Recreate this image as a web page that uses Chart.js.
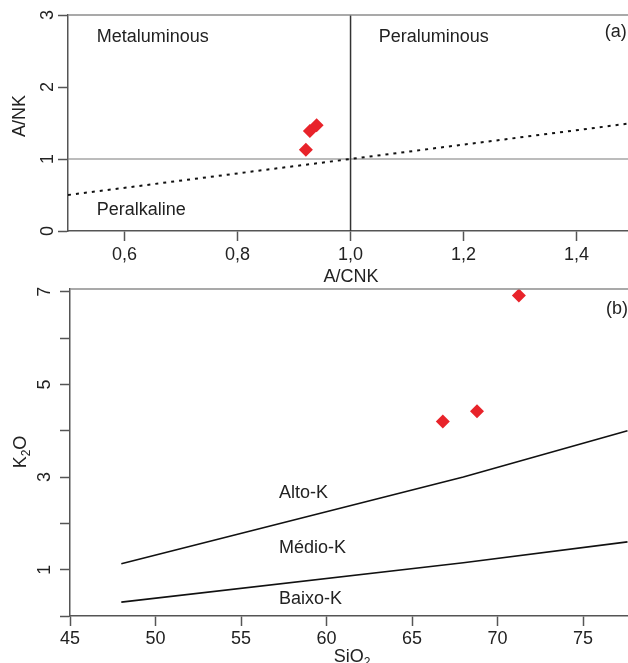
<!DOCTYPE html>
<html>
<head>
<meta charset="utf-8">
<script src="https://cdn.jsdelivr.net/npm/chart.js@4.4.0/dist/chart.umd.min.js"></script>
<style>
  html, body { margin: 0; padding: 0; background: #fff; }
  #wrap { position: relative; width: 628px; height: 663px; overflow: hidden; }
  canvas { position: absolute; left: 0; }
  #chartA { top: 0; }
  #chartB { top: 280px; }
</style>
</head>
<body>
<div id="wrap">
  <canvas id="chartA" width="628" height="290"></canvas>
  <canvas id="chartB" width="628" height="383"></canvas>
</div>
<script>
// (a) A/CNK x A/NK
const acnk = [0.921, 0.928, 0.94];
const ank = [1.13, 1.39, 1.47];
const acnkTicks = [0.6, 0.8, 1.0, 1.2, 1.4];
const ankTicks = [0, 1, 2, 3];
const ankLabelTicks = [0, 1, 2, 3];
const peralkLineX = [0.5, 1.5];   // A/NK = A/CNK
const peralkLineY = [0.5, 1.5];
const ank1LineX = [0.5, 1.5];
const ank1LineY = [1, 1];
const acnk1LineX = [1, 1];
const acnk1LineY = [0, 3];
const fieldsA = ["Metaluminous", "Peraluminous", "Peralkaline", "(a)"];
const fieldsAX = [0.551, 1.05, 0.551, 1.45];
const fieldsAY = [2.69, 2.69, 0.29, 2.77];

// (b) SiO2 x K2O
const sio2 = [66.8, 68.8, 71.25];
const k2o = [4.2, 4.42, 6.92];
const sio2Ticks = [45, 50, 55, 60, 65, 70, 75];
const k2oTicks = [0, 1, 2, 3, 4, 5, 6, 7];
const k2oLabelTicks = [1, 3, 5, 7];
const altoLineX = [48, 68, 77.6];
const altoLineY = [1.13, 3.0, 4.0];
const baixoLineX = [48, 68, 77.6];
const baixoLineY = [0.3, 1.15, 1.6];
const fieldsB = ["Alto-K", "Médio-K", "Baixo-K", "(b)"];
const fieldsBX = [57.22, 57.22, 57.22, 76.35];
const fieldsBY = [2.66, 1.47, 0.37, 6.63];

const FONT = '"Liberation Sans", Arial, sans-serif';
const TXT = '#222';

const pts = (xs, ys) => xs.map((x, i) => ({ x: x, y: ys[i] }));

function lineSet(xs, ys, color, width, dash) {
  return {
    data: pts(xs, ys),
    showLine: true,
    borderColor: color,
    borderWidth: width,
    borderDash: dash || [],
    pointRadius: 0,
    tension: 0,
    fill: false
  };
}

// draws text pieces, some as subscript, centred on (0,0)
function drawSub(ctx, parts) {
  const big = '18px ' + FONT, small = '12px ' + FONT;
  let total = 0;
  parts.forEach(p => { ctx.font = p[1] ? small : big; total += ctx.measureText(p[0]).width; });
  let x = -total / 2;
  ctx.textAlign = 'left';
  parts.forEach(p => {
    ctx.font = p[1] ? small : big;
    ctx.fillText(p[0], x, p[1] ? 6 : 0);
    x += ctx.measureText(p[0]).width;
  });
}

function overlay(o) {
  return {
    id: 'overlay',
    afterDraw(chart) {
      const ctx = chart.ctx, a = chart.chartArea;
      const xs = chart.scales.x, ys = chart.scales.y;
      ctx.save();
      // top frame
      ctx.strokeStyle = '#8c8c8c';
      ctx.lineWidth = 1.5;
      ctx.beginPath();
      ctx.moveTo(a.left, a.top);
      ctx.lineTo(a.right, a.top);
      ctx.stroke();

      ctx.fillStyle = TXT;
      ctx.font = '18px ' + FONT;
      ctx.textBaseline = 'middle';
      // rotated y tick labels
      ctx.textAlign = 'center';
      o.yLabels.forEach(v => {
        ctx.save();
        ctx.translate(a.left - o.yLabelGap, ys.getPixelForValue(v));
        ctx.rotate(-Math.PI / 2);
        ctx.fillText(String(v), 0, 0);
        ctx.restore();
      });
      // field names
      ctx.textAlign = 'left';
      o.texts.forEach((t, i) => {
        ctx.fillText(t, xs.getPixelForValue(o.tx[i]), ys.getPixelForValue(o.ty[i]));
      });
      // axis titles
      ctx.save();
      ctx.translate(o.xTitle[0], o.xTitle[1]);
      drawSub(ctx, o.xTitleParts);
      ctx.restore();
      ctx.save();
      ctx.translate(o.yTitle[0], o.yTitle[1]);
      ctx.rotate(-Math.PI / 2);
      drawSub(ctx, o.yTitleParts);
      ctx.restore();
      ctx.restore();
    }
  };
}

function axisOpts(ticks, size, extra) {
  return Object.assign({
    type: 'linear',
    afterBuildTicks: s => { s.ticks = ticks.map(v => ({ value: v })); },
    afterFit: s => {
      if (s.isHorizontal()) s.height = size; else s.width = size;
      s.paddingLeft = 0; s.paddingRight = 0; s.paddingTop = 0; s.paddingBottom = 0;
    },
    grid: { drawOnChartArea: false, drawTicks: true, tickLength: 10, tickColor: '#555', tickWidth: 1.5 },
    border: { display: true, color: '#555', width: 1.5 }
  }, extra);
}

const common = {
  responsive: false,
  animation: false,
  events: [],
  plugins: { legend: { display: false }, tooltip: { enabled: false } }
};

new Chart(document.getElementById('chartA'), {
  type: 'scatter',
  data: {
    datasets: [
      {
        data: pts(acnk, ank),
        pointStyle: 'rectRot',
        pointRadius: 7,
        backgroundColor: '#e8232a',
        borderWidth: 0
      },
      lineSet(peralkLineX, peralkLineY, '#111', 2, [3, 5]),
      lineSet(acnk1LineX, acnk1LineY, '#333', 1.5),
      lineSet(ank1LineX, ank1LineY, '#7a7a7a', 1.2)
    ]
  },
  options: Object.assign({}, common, {
    layout: { autoPadding: false, padding: { top: 15, left: 0, right: 0, bottom: 0 } },
    scales: {
      x: axisOpts(acnkTicks, 59, {
        min: 0.5,
        max: 1.491,
        ticks: {
          font: { family: FONT, size: 18 }, color: TXT, padding: 3,
          maxRotation: 0, autoSkip: false,
          callback: v => v.toFixed(1).replace('.', ',')
        }
      }),
      y: axisOpts(ankTicks, 68, {
        min: 0,
        max: 3,
        ticks: { display: false }
      })
    }
  }),
  plugins: [overlay({
    yLabels: ankLabelTicks, yLabelGap: 20,
    texts: fieldsA, tx: fieldsAX, ty: fieldsAY,
    xTitle: [351, 277], xTitleParts: [['A/CNK', false]],
    yTitle: [20, 116], yTitleParts: [['A/NK', false]]
  })]
});

new Chart(document.getElementById('chartB'), {
  type: 'scatter',
  data: {
    datasets: [
      {
        data: pts(sio2, k2o),
        pointStyle: 'rectRot',
        pointRadius: 7,
        backgroundColor: '#e8232a',
        borderWidth: 0
      },
      lineSet(altoLineX, altoLineY, '#111', 1.6),
      lineSet(baixoLineX, baixoLineY, '#111', 1.6)
    ]
  },
  options: Object.assign({}, common, {
    layout: { autoPadding: false, padding: { top: 9, left: 0, right: 0, bottom: 0 } },
    scales: {
      x: axisOpts(sio2Ticks, 47, {
        min: 45,
        max: 77.63,
        ticks: {
          font: { family: FONT, size: 18 }, color: TXT, padding: 2,
          maxRotation: 0, autoSkip: false,
          callback: v => String(v)
        }
      }),
      y: axisOpts(k2oTicks, 70, {
        min: 0,
        max: 7.06,
        ticks: { display: false }
      })
    }
  }),
  plugins: [overlay({
    yLabels: k2oLabelTicks, yLabelGap: 25,
    texts: fieldsB, tx: fieldsBX, ty: fieldsBY,
    xTitle: [352, 377], xTitleParts: [['SiO', false], ['2', true]],
    yTitle: [21, 172], yTitleParts: [['K', false], ['2', true], ['O', false]]
  })]
});
</script>
</body>
</html>
